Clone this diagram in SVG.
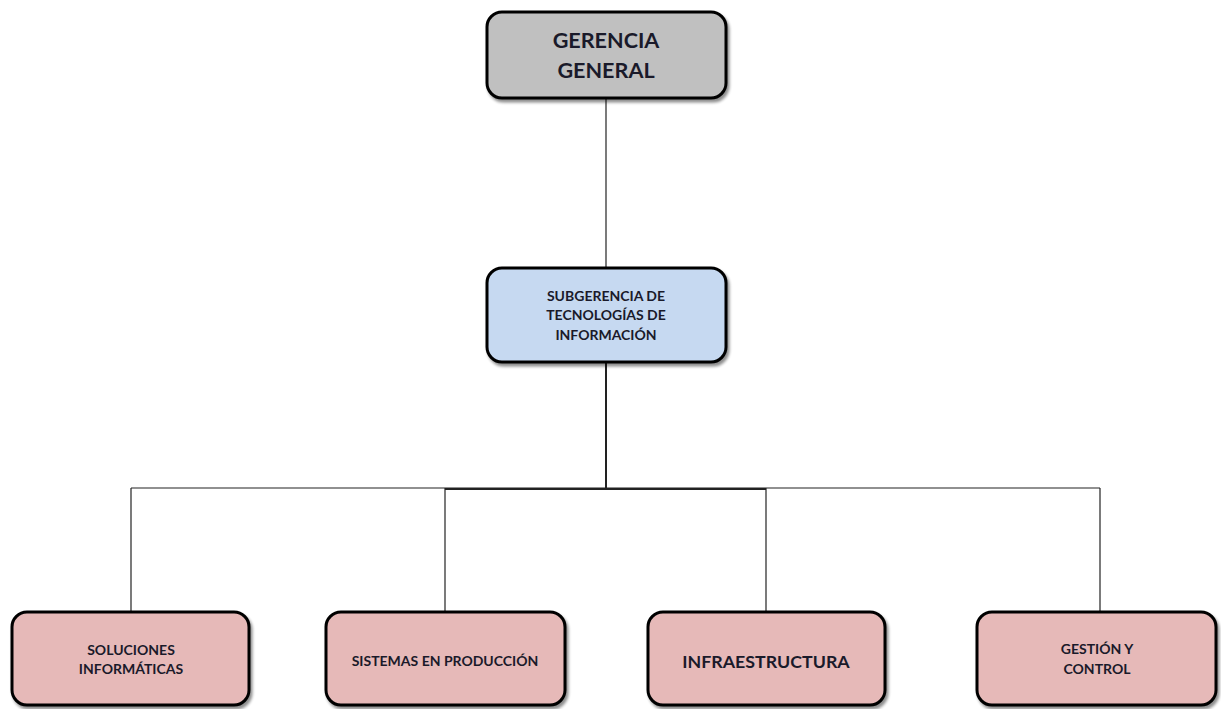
<svg xmlns="http://www.w3.org/2000/svg" width="1221" height="709" viewBox="0 0 1221 709">
<defs>
<filter id="sh" x="-10%" y="-10%" width="130%" height="140%">
<feGaussianBlur in="SourceAlpha" stdDeviation="1.5"/>
<feOffset dx="2" dy="3" result="o"/>
<feComponentTransfer><feFuncA type="linear" slope="0.45"/></feComponentTransfer>
<feMerge><feMergeNode/><feMergeNode in="SourceGraphic"/></feMerge>
</filter>
<style>
.box{stroke:#000;stroke-width:3;filter:url(#sh)}
.t{font-family:Lato,"Liberation Sans",sans-serif;font-weight:bold;fill:#1a1a2a;text-anchor:middle}
.s{font-size:14px}
.c{stroke:#222;stroke-width:1.2;fill:none}
</style>
</defs>
<rect width="1221" height="709" fill="#fff"/>
<g id="connectors">
<line class="c" x1="606" y1="99" x2="606" y2="268"/>
<line class="c" x1="606" y1="362" x2="606" y2="488" style="stroke-width:2"/>
<line class="c" x1="131" y1="488" x2="1100" y2="488"/>
<line class="c" x1="445" y1="489" x2="766" y2="489" style="stroke-width:2"/>
<line class="c" x1="131" y1="488" x2="131" y2="612"/>
<line class="c" x1="445" y1="488" x2="445" y2="612"/>
<line class="c" x1="766" y1="488" x2="766" y2="612"/>
<line class="c" x1="1100" y1="488" x2="1100" y2="612"/>
</g>
<g id="gerencia">
<rect class="box" x="487" y="12" width="239" height="86" rx="15" fill="#c0c0c0"/>
<text class="t" x="606" y="48" font-size="21.6">GERENCIA</text>
<text class="t" x="606" y="78" font-size="21.6">GENERAL</text>
</g>
<g id="subgerencia">
<rect class="box" x="487" y="268" width="239" height="94" rx="15" fill="#c6d9f1"/>
<text class="t s" x="606" y="301">SUBGERENCIA DE</text>
<text class="t s" x="606" y="320">TECNOLOGÍAS DE</text>
<text class="t s" x="606" y="340">INFORMACIÓN</text>
</g>
<g id="soluciones">
<rect class="box" x="12" y="612" width="237" height="93" rx="15" fill="#e6b9b8"/>
<text class="t s" x="131" y="655">SOLUCIONES</text>
<text class="t s" x="131" y="674">INFORMÁTICAS</text>
</g>
<g id="sistemas">
<rect class="box" x="326" y="612" width="239" height="93" rx="15" fill="#e6b9b8"/>
<text class="t s" x="445" y="666">SISTEMAS EN PRODUCCIÓN</text>
</g>
<g id="infraestructura">
<rect class="box" x="648" y="612" width="237" height="93" rx="15" fill="#e6b9b8"/>
<text class="t" x="766" y="668" font-size="17.8">INFRAESTRUCTURA</text>
</g>
<g id="gestion">
<rect class="box" x="977" y="612" width="239" height="93" rx="15" fill="#e6b9b8"/>
<text class="t s" x="1097" y="654">GESTIÓN Y</text>
<text class="t s" x="1097" y="674">CONTROL</text>
</g>
</svg>
